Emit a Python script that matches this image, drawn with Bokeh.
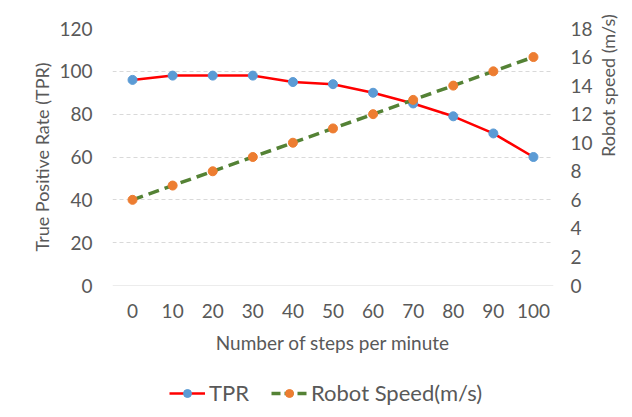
import math
from bokeh.plotting import figure
from bokeh.layouts import column
from bokeh.models import Range1d, LinearAxis, FixedTicker, Legend, LegendItem
from bokeh.embed import file_html
from bokeh.resources import INLINE

steps = [0, 10, 20, 30, 40, 50, 60, 70, 80, 90, 100]
tpr = [96, 98, 98, 98, 95, 94, 90, 85, 79, 71, 60]
speed = [6, 7, 8, 9, 10, 11, 12, 13, 14, 15, 16]
left_ticks = [0, 20, 40, 60, 80, 100, 120]
right_ticks = [0, 2, 4, 6, 8, 10, 12, 14, 16, 18]

FONT = "Lato"
TXT = "#595959"
RED, BLUE, GREEN, ORANGE = "#ff0000", "#5b9bd5", "#548235", "#ed7d31"

p = figure(width=632, height=372, output_backend="svg", toolbar_location=None,
           x_range=Range1d(-5, 105), y_range=Range1d(0, 120),
           min_border_left=112, min_border_right=77, min_border_top=28, min_border_bottom=87)
p.outline_line_color = None
p.background_fill_color = "white"
p.border_fill_color = "white"

p.extra_y_ranges = {"speed": Range1d(0, 18)}

p.xgrid.visible = False
p.ygrid.ticker = FixedTicker(ticks=left_ticks[1:])
p.ygrid.grid_line_color = "#d9d9d9"
p.ygrid.grid_line_dash = "4 3"
p.ygrid.grid_line_width = 1
p.hspan(y=[0], line_color="#d9d9d9", line_width=1)

def style_axis(ax, label, size, standoff, title_standoff):
    ax.axis_line_color = None
    ax.major_tick_line_color = None
    ax.minor_tick_line_color = None
    ax.major_tick_out = 0
    ax.major_tick_in = 0
    ax.minor_tick_out = 0
    ax.major_label_text_font = FONT
    ax.major_label_text_font_size = "19px"
    ax.major_label_text_color = TXT
    ax.major_label_standoff = standoff
    ax.axis_label = label
    ax.axis_label_text_font = FONT
    ax.axis_label_text_font_size = size
    ax.axis_label_text_font_style = "normal"
    ax.axis_label_text_color = TXT
    ax.axis_label_standoff = title_standoff

style_axis(p.xaxis[0], "Number of steps per minute", "19px", 18, 10)
p.xaxis[0].ticker = FixedTicker(ticks=steps)
style_axis(p.yaxis[0], "True Positive Rate (TPR)", "18px", 20, 3)
p.yaxis[0].ticker = FixedTicker(ticks=left_ticks)

ry = LinearAxis(y_range_name="speed", ticker=FixedTicker(ticks=right_ticks))
style_axis(ry, "Robot speed (m/s)", "18px", 17, 12)
ry.axis_label_orientation = math.pi / 2
p.add_layout(ry, "right")

p.line(steps, tpr, line_color=RED, line_width=2.5)
p.scatter(steps, tpr, size=9, fill_color=BLUE, line_color=BLUE)
p.line(steps, speed, y_range_name="speed", line_color=GREEN, line_width=3.5, line_dash="11 6")
p.scatter(steps, speed, y_range_name="speed", size=9, fill_color=ORANGE, line_color=ORANGE)

# legend strip below the chart (its renderers lie outside its ranges, so only the legend shows)
pl = figure(width=632, height=45, output_backend="svg", toolbar_location=None,
            x_range=Range1d(1000, 1001), y_range=Range1d(1000, 1001),
            min_border_left=112, min_border_right=77, min_border_top=0, min_border_bottom=0)
pl.axis.visible = False
pl.grid.visible = False
pl.outline_line_color = None
pl.border_fill_color = "white"
ll1 = pl.line(steps, tpr, line_color=RED, line_width=2.5)
ls1 = pl.scatter(steps, tpr, size=9, fill_color=BLUE, line_color=BLUE)
ll2 = pl.line(steps, speed, line_color=GREEN, line_width=3.5, line_dash="9 4")
ls2 = pl.scatter(steps, speed, size=9, fill_color=ORANGE, line_color=ORANGE)

legend = Legend(items=[LegendItem(label="TPR", renderers=[ll1, ls1]),
                       LegendItem(label="Robot Speed(m/s)", renderers=[ll2, ls2])],
                orientation="horizontal", location=(57, 11),
                label_text_font=FONT, label_text_font_size="22px", label_text_color=TXT,
                glyph_width=36, label_standoff=4, spacing=22, padding=0, margin=0,
                border_line_color=None, background_fill_alpha=0)
pl.add_layout(legend, "center")

layout = column(p, pl, spacing=0)
open("out.html", "w").write(file_html(layout, INLINE))
